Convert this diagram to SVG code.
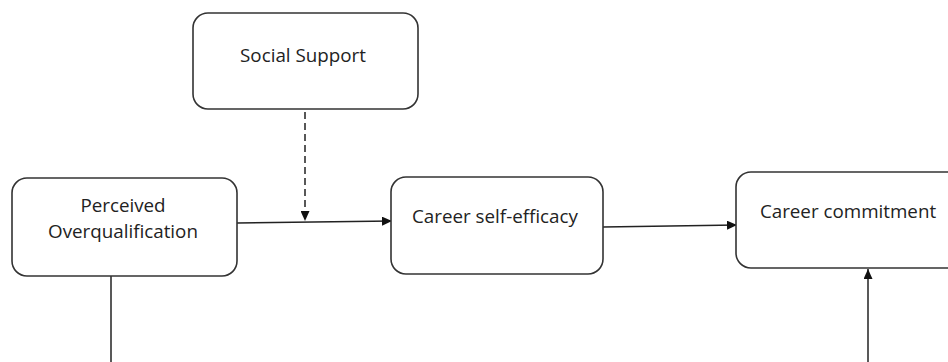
<svg xmlns="http://www.w3.org/2000/svg" width="948" height="362" viewBox="0 0 948 362">
<defs>
<style>
.box{fill:#fff;stroke:#333;stroke-width:1.6}
.lbl{font-family:"Open Sans","Noto Sans","Liberation Sans",sans-serif;font-size:18.8px;fill:#222;text-anchor:middle}
.ln{fill:none;stroke:#222;stroke-width:1.5}
.dash{stroke-dasharray:7 4}
</style>
<marker id="ah" viewBox="0 0 10 10" refX="10" refY="5" markerWidth="10" markerHeight="9" markerUnits="userSpaceOnUse" orient="auto" preserveAspectRatio="none">
<path d="M0,0 L10,5 L0,10 z" fill="#111"/>
</marker>
</defs>
<rect width="948" height="362" fill="#fff"/>
<g id="connectors">
<path class="ln" d="M237,223 L392,221" marker-end="url(#ah)"/>
<path class="ln dash" d="M305,112 L305,221" marker-end="url(#ah)"/>
<path class="ln" d="M603,227 L737,225" marker-end="url(#ah)"/>
<path class="ln" d="M111,276 L111,365"/>
<path class="ln" d="M868,365 L868,269" marker-end="url(#ah)"/>
</g>
<g id="social-support">
<rect class="box" x="193" y="13" width="225" height="96" rx="15"/>
<text class="lbl" x="303" y="62">Social Support</text>
</g>
<g id="perceived-overqualification">
<rect class="box" x="12" y="178" width="225" height="98" rx="15"/>
<text class="lbl" x="123" y="212">Perceived</text>
<text class="lbl" x="123" y="238">Overqualification</text>
</g>
<g id="career-self-efficacy">
<rect class="box" x="391" y="177" width="212" height="97" rx="15"/>
<text class="lbl" x="495" y="223">Career self-efficacy</text>
</g>
<g id="career-commitment">
<rect class="box" x="736" y="172" width="260" height="96" rx="15"/>
<text class="lbl" x="848" y="218">Career commitment</text>
</g>
</svg>
